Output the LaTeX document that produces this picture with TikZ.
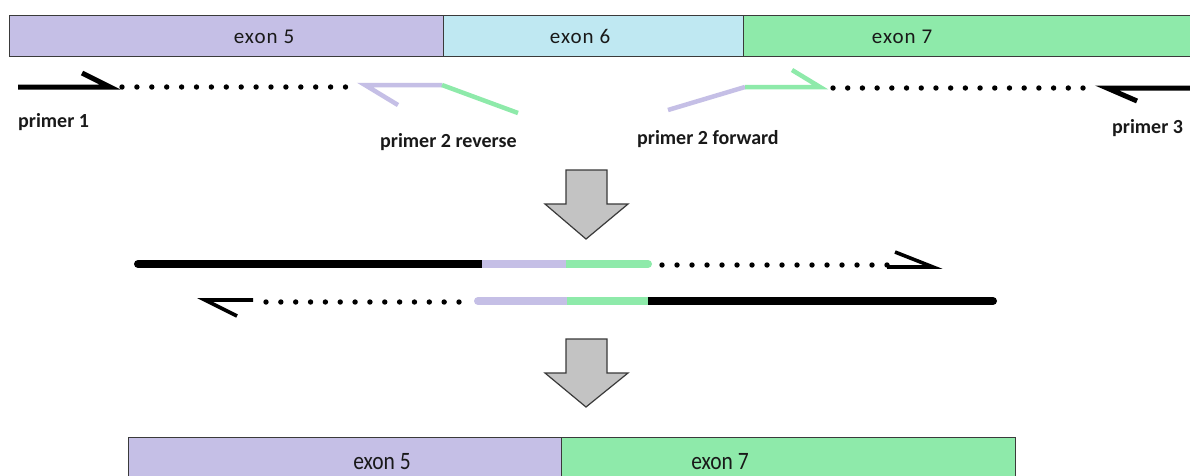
\documentclass[tikz,border=0pt]{standalone}
\usepackage{fontspec}
\usepackage{graphicx}
\setmainfont{Carlito}
\newfontfamily\exonfont[LetterSpace=5]{Carlito}
\definecolor{exfive}{HTML}{C5BFE6}
\definecolor{exsix}{HTML}{BFE8F2}
\definecolor{exseven}{HTML}{8EEAAA}
\definecolor{arrowgray}{HTML}{C3C3C3}
\definecolor{barline}{HTML}{3A3A3A}
\tikzset{
  bar/.style={draw=barline, line width=1.3pt, inner sep=0pt, anchor=north west},
  exonlbl/.style={anchor=base, inner sep=0pt, font=\exonfont\fontsize{21}{25}\selectfont, text=black!90},
  exonlblb/.style={anchor=base, inner sep=0pt, font=\fontsize{25}{30}\selectfont, text=black!90},
  primerlbl/.style={anchor=base west, inner sep=0pt, font=\bfseries\fontsize{20}{24}\selectfont, text=black!90},
  blackprimer/.style={line width=5pt, line join=miter, black},
  colprimer/.style={line width=4.5pt},
  dotline/.style={line width=5.4pt, line cap=round, dash pattern=on 0pt off #1, black},
  strand/.style={line width=8pt},
  tipline/.style={line width=3.6pt, black},
  blockarrow/.style={fill=arrowgray, draw=barline, line width=1.2pt, line join=miter}
}
\begin{document}
\begin{tikzpicture}[x=1pt,y=-1pt]
\clip (0,0) rectangle (1190,475);
\fill[white] (0,0) rectangle (1190,475);
% top exon bar
\node[bar, fill=exfive, minimum width=434pt, minimum height=41pt] (ex5) at (9,15) {};
\node[bar, fill=exsix, minimum width=300pt, minimum height=41pt] (ex6) at (443,15) {};
\node[bar, fill=exseven, minimum width=470pt, minimum height=41pt] (ex7) at (743,15) {};
\node[exonlbl] (t5) at (264,43) {exon 5};
\node[exonlbl] (t6) at (580,43) {exon 6};
\node[exonlbl] (t7) at (902,43) {exon 7};
% primer 1
\coordinate (p1s) at (18,87);
\coordinate (p1e) at (110,87);
\coordinate (p1b) at (82,73);
\draw[blackprimer] (p1s) -- (p1e) -- (p1b);
\coordinate (d1s) at (122,87);
\coordinate (d1e) at (345.6,87);
\draw[dotline=14.9pt] (d1s) -- (d1e);
% primer 2 reverse
\coordinate (r2b) at (398,105);
\coordinate (r2t) at (365,85);
\coordinate (r2m) at (442,85);
\coordinate (r2e) at (518,113);
\draw[colprimer, exfive] (r2b) -- (r2t) -- (r2m);
\draw[colprimer, exseven] (r2m) -- (r2e);
% primer 2 forward
\coordinate (f2s) at (668,110);
\coordinate (f2m) at (745,87);
\coordinate (f2t) at (820,87);
\coordinate (f2b) at (792,70);
\draw[colprimer, exfive] (f2s) -- (f2m);
\draw[colprimer, exseven] (f2m) -- (f2t) -- (f2b);
% right dots
\coordinate (d2s) at (833,88);
\coordinate (d2e) at (1083.2,88);
\draw[dotline=14.706pt] (d2s) -- (d2e);
% primer 3
\coordinate (p3s) at (1200,88);
\coordinate (p3e) at (1107,88);
\coordinate (p3b) at (1137,101);
\draw[blackprimer] (p3s) -- (p3e) -- (p3b);
% labels
\node[primerlbl] (l1) at (18,127) {primer 1};
\node[primerlbl] (l2) at (380,147) {primer 2 reverse};
\node[primerlbl] (l3) at (637,144) {primer 2 forward};
\node[primerlbl] (l4) at (1112,133) {primer 3};
% block arrow 1
\draw[blockarrow] (566,170) -- (607,170) -- (607,204) -- (628,204) -- (586,239) -- (545,204) -- (566,204) -- cycle;
% middle top strand
\coordinate (a1) at (138,264);
\coordinate (a2) at (482,264);
\coordinate (a3) at (566,264);
\coordinate (a4) at (648,264);
\draw[strand, black, line cap=round] (a1) -- (a2);
\draw[strand, exseven, line cap=round] (a3) -- (a4);
\draw[strand, exfive] (a2) -- (a3);
\coordinate (d3s) at (662,265);
\coordinate (d3e) at (887.1,265);
\draw[dotline=15pt] (d3s) -- (d3e);
\coordinate (h1a) at (887,267);
\coordinate (h1b) at (933,267);
\coordinate (h1c) at (895,252);
\draw[tipline] (h1a) -- (h1b) -- (h1c);
% middle bottom strand
\coordinate (h2a) at (253,300);
\coordinate (h2b) at (205,300);
\coordinate (h2c) at (237,316);
\draw[tipline] (h2a) -- (h2b) -- (h2c);
\coordinate (d4s) at (266,302);
\coordinate (d4e) at (459.1,302);
\draw[dotline=14.846pt] (d4s) -- (d4e);
\coordinate (b1) at (478,301);
\coordinate (b2) at (567,301);
\coordinate (b3) at (648,301);
\coordinate (b4) at (993,301);
\draw[strand, exfive, line cap=round] (b1) -- (b2);
\draw[strand, black, line cap=round] (b3) -- (b4);
\draw[strand, exseven] (b2) -- (b3);
% block arrow 2
\draw[blockarrow] (566,339) -- (607,339) -- (607,373) -- (628,373) -- (586,407) -- (545,373) -- (566,373) -- cycle;
% bottom exon bar
\node[bar, fill=exfive, minimum width=433pt, minimum height=50pt] (bx5) at (128,437) {};
\node[bar, fill=exseven, minimum width=454pt, minimum height=50pt] (bx7) at (561,437) {};
\node[exonlblb] (bt5) at (382,469) {\scalebox{0.86}[1]{exon 5}};
\node[exonlblb] (bt7) at (720,469) {\scalebox{0.86}[1]{exon 7}};
\end{tikzpicture}
\end{document}
